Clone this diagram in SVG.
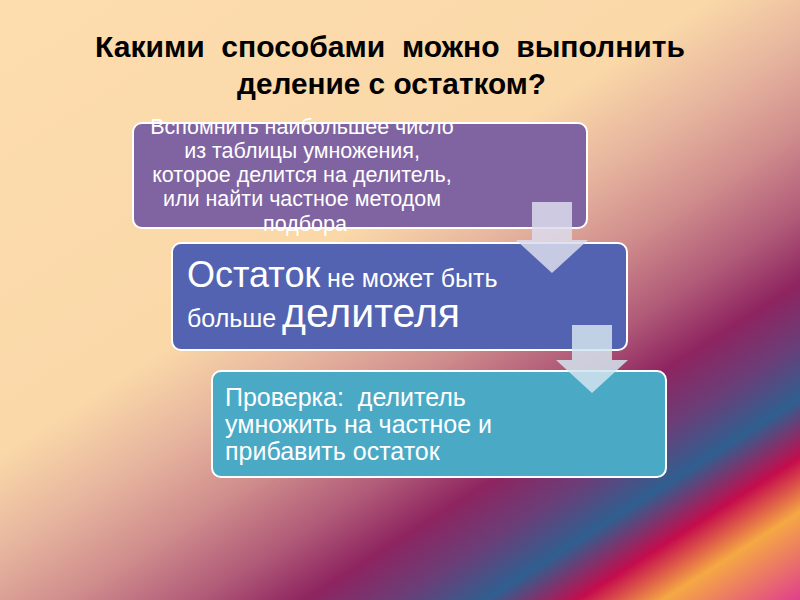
<svg xmlns="http://www.w3.org/2000/svg" width="800" height="600" viewBox="0 0 800 600">
<defs>
<linearGradient id="bg" gradientUnits="userSpaceOnUse" x1="0" y1="0" x2="504" y2="788">
<stop offset="0" stop-color="#fddcae"/>
<stop offset="0.41" stop-color="#fad8a8"/>
<stop offset="0.50" stop-color="#e6b49e"/>
<stop offset="0.58" stop-color="#cf8c8c"/>
<stop offset="0.655" stop-color="#b05a78"/>
<stop offset="0.716" stop-color="#8e2460"/>
<stop offset="0.77" stop-color="#6a3e78"/>
<stop offset="0.82" stop-color="#2f5f90"/>
<stop offset="0.873" stop-color="#c50c4c"/>
<stop offset="0.922" stop-color="#f5a844"/>
<stop offset="1" stop-color="#e0408c"/>
</linearGradient>
<style>
.box{stroke:#ffffff;stroke-width:2}
.t{fill:#ffffff;font-family:"Liberation Sans",Arial,sans-serif}
.title{fill:#000000;font-family:"Liberation Sans",Arial,sans-serif;font-weight:bold;font-size:30px}
.arrow1{fill:#dcdcec;fill-opacity:0.85}
.arrow2{fill:#d4e4ee;fill-opacity:0.85}
</style>
</defs>
<rect x="0" y="0" width="800" height="600" fill="url(#bg)"/>
<g id="title">
<text class="title" x="95" y="57" textLength="590" lengthAdjust="spacingAndGlyphs" xml:space="preserve">Какими  способами  можно  выполнить</text>
<text class="title" x="237" y="94" textLength="309" lengthAdjust="spacingAndGlyphs">деление с остатком?</text>
</g>
<g id="node1">
<rect class="box" x="133" y="123" width="454" height="105" rx="9" fill="#8064a2"/>
<text class="t" font-size="21.5" text-anchor="middle">
<tspan x="305" y="134">Вспомнить наибольшее число</tspan>
<tspan x="305" y="158">из таблицы умножения,</tspan>
<tspan x="305" y="182">которое делится на делитель,</tspan>
<tspan x="305" y="206">или найти частное методом</tspan>
<tspan x="305" y="231">подбора</tspan>
</text>
</g>
<g id="node2">
<rect class="box" x="172" y="243" width="455" height="107" rx="9" fill="#5363b1"/>
<text class="t" x="187" y="287"><tspan font-size="36">Остаток</tspan><tspan font-size="25"> не может быть</tspan></text>
<text class="t" x="187" y="327"><tspan font-size="25">больше</tspan><tspan x="282" font-size="41">делителя</tspan></text>
</g>
<g id="node3">
<rect class="box" x="212" y="371" width="454" height="106" rx="9" fill="#4aaac6"/>
<text class="t" font-size="25" xml:space="preserve">
<tspan x="225" y="406">Проверка:  делитель</tspan>
<tspan x="225" y="433">умножить на частное и</tspan>
<tspan x="225" y="460">прибавить остаток</tspan>
</text>
</g>
<g id="connectors">
<polygon class="arrow1" points="532,202 572,202 572,240 588,240 552,273 516,240 532,240"/>
<polygon class="arrow2" points="572,325 612,325 612,360 628,360 592,393 556,360 572,360"/>
</g>
</svg>
